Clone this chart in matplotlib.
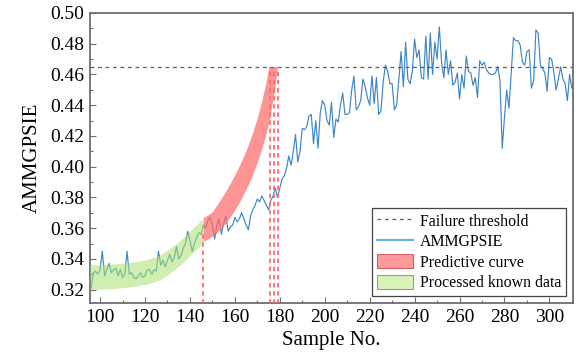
import matplotlib
matplotlib.use("Agg")
import matplotlib.pyplot as plt
import matplotlib.patches as mpatches
import matplotlib.ticker as mticker
from matplotlib.lines import Line2D
import numpy as np

plt.rcParams["font.family"] = ["Liberation Serif", "DejaVu Serif"]

#  Data 
sample_start = 96
ammgpsie = [
    # 96 - 105
    0.321, 0.331, 0.332, 0.330, 0.333, 0.345, 0.329, 0.333, 0.337, 0.331,
    # 106 - 115
    0.333, 0.334, 0.329, 0.333, 0.328, 0.330, 0.345, 0.330, 0.331, 0.328,
    # 116 - 125
    0.327, 0.329, 0.331, 0.328, 0.329, 0.333, 0.333, 0.330, 0.333, 0.332,
    # 126 - 135
    0.345, 0.336, 0.339, 0.335, 0.339, 0.343, 0.338, 0.341, 0.348, 0.340,
    # 136 - 145
    0.342, 0.347, 0.350, 0.358, 0.352, 0.345, 0.350, 0.354, 0.357, 0.356,
    # 146 - 155
    0.362, 0.360, 0.365, 0.367, 0.362, 0.353, 0.362, 0.366, 0.356, 0.363,
    # 156 - 165
    0.368, 0.358, 0.361, 0.362, 0.367, 0.364, 0.366, 0.370, 0.366, 0.362,
    # 166 - 175
    0.359, 0.368, 0.372, 0.375, 0.379, 0.377, 0.381, 0.378, 0.375, 0.372,
    # 176 - 185
    0.378, 0.381, 0.386, 0.380, 0.386, 0.392, 0.394, 0.399, 0.407, 0.401,
    # 186 - 195
    0.410, 0.421, 0.403, 0.410, 0.425, 0.424, 0.426, 0.433, 0.434, 0.415,
    # 196 - 205
    0.430, 0.412, 0.435, 0.443, 0.440, 0.430, 0.427, 0.442, 0.419, 0.431,
    # 206 - 215
    0.429, 0.440, 0.448, 0.434, 0.434, 0.435, 0.450, 0.459, 0.437, 0.439,
    # 216 - 225
    0.443, 0.457, 0.452, 0.445, 0.440, 0.459, 0.441, 0.458, 0.434, 0.436,
    # 226 - 235
    0.455, 0.466, 0.462, 0.454, 0.454, 0.437, 0.440, 0.457, 0.475, 0.452,
    # 236 - 245
    0.481, 0.457, 0.454, 0.462, 0.483, 0.471, 0.476, 0.458, 0.457, 0.485,
    # 246 - 255
    0.457, 0.487, 0.460, 0.481, 0.470, 0.491, 0.468, 0.458, 0.476, 0.460,
    # 256 - 265
    0.469, 0.453, 0.455, 0.461, 0.444, 0.460, 0.451, 0.472, 0.462, 0.461,
    # 266 - 275
    0.453, 0.458, 0.445, 0.469, 0.466, 0.468, 0.463, 0.461, 0.460, 0.460,
    # 276 - 285
    0.461, 0.465, 0.456, 0.412, 0.432, 0.450, 0.438, 0.461, 0.484, 0.482,
    # 286 - 295
    0.482, 0.479, 0.468, 0.466, 0.475, 0.476, 0.451, 0.456, 0.489, 0.487,
    # 296 - 305
    0.466, 0.464, 0.461, 0.449, 0.471, 0.470, 0.461, 0.450, 0.457, 0.465,
    # 306 - 311
    0.457, 0.454, 0.443, 0.460, 0.451, 0.454,
]
samples = np.arange(sample_start, sample_start + len(ammgpsie))

# processed known data (fitted band)
known_x = [95.5, 101, 106, 111, 116, 121, 126, 131, 136, 141, 146]
known_mid = [0.3282, 0.3283, 0.3287, 0.3294, 0.3303, 0.3316, 0.3340,
             0.3385, 0.3445, 0.3515, 0.3585]
known_half = 0.008

# predictive curve (upper / lower bound)
pred_x = [146, 148, 150, 152, 154, 156, 158, 160, 162, 164, 166, 168,
          170, 172, 174, 175.1, 176, 177, 178, 179]
pred_upper = [0.3672, 0.3685, 0.3708, 0.3750, 0.3795, 0.3842, 0.3893,
              0.3948, 0.4008, 0.4072, 0.4145, 0.4225, 0.4320, 0.4430,
              0.4560, 0.4650, 0.4650, 0.4650, 0.4650, 0.4650]
pred_lower = [0.3515, 0.3530, 0.3548, 0.3570, 0.3600, 0.3635, 0.3675,
              0.3720, 0.3770, 0.3825, 0.3885, 0.3953, 0.4030, 0.4120,
              0.4222, 0.4288, 0.4358, 0.4450, 0.4545, 0.4650]

threshold = 0.4648
start_marker = 146
start_marker_top = 0.358
fail_markers = [175.6, 177.3, 179.1]

#  Palette 
COLORS = {
    "line": "#3f85c8",
    "pred": "#ff6b6b",
    "known": "#a8e070",
    "vline": "#ff6e6e",
    "thresh": "#5a5a5a",
    "spine": "#6e6e6e",
}

fig = plt.figure(figsize=(5.79, 3.6), dpi=100)
ax = fig.add_axes([0.1554, 0.1583, 0.8342, 0.8056])

ax.plot(samples, ammgpsie, color=COLORS["line"], linewidth=0.85, zorder=2)

known_x = np.array(known_x)
known_mid = np.array(known_mid)
ax.fill_between(known_x, known_mid - known_half, known_mid + known_half,
                color=COLORS["known"], alpha=0.55, linewidth=0, zorder=3)
ax.fill_between(pred_x, pred_lower, pred_upper,
                color=COLORS["pred"], alpha=0.72, linewidth=0, zorder=3)

ax.axhline(threshold, color=COLORS["thresh"], linewidth=0.9,
           linestyle=(0, (3, 3)), zorder=4)

ax.plot([start_marker, start_marker], [0.30, start_marker_top],
        color=COLORS["vline"], linewidth=1.3, linestyle=(0, (2.5, 2)), zorder=4)
for xm in fail_markers:
    ax.plot([xm, xm], [0.30, threshold], color=COLORS["vline"],
            linewidth=1.3, linestyle=(0, (2.5, 2)), zorder=4)

ax.set_xlim(95.5, 310.5)
ax.set_ylim(0.3113, 0.50)

ax.xaxis.set_major_locator(mticker.MultipleLocator(20))
ax.xaxis.set_minor_locator(mticker.MultipleLocator(10))
ax.yaxis.set_major_locator(mticker.MultipleLocator(0.02))
ax.yaxis.set_minor_locator(mticker.MultipleLocator(0.01))
ax.yaxis.set_major_formatter(mticker.FormatStrFormatter("%.2f"))
ax.tick_params(which="both", direction="in", top=False, right=False,
               color=COLORS["spine"], labelsize=14, pad=4)
ax.tick_params(which="major", length=4, width=0.8)
ax.tick_params(which="minor", length=2.5, width=0.8)
for sp in ax.spines.values():
    sp.set_color(COLORS["spine"])
    sp.set_linewidth(1.3)

ax.set_xlabel("Sample No.", fontsize=15, labelpad=4)
ax.set_ylabel("AMMGPSIE", fontsize=15, labelpad=6)

handles = [
    Line2D([], [], color=COLORS["thresh"], linewidth=0.9, linestyle=(0, (3, 3))),
    Line2D([], [], color="#6aaee0", linewidth=1.6),
    mpatches.Patch(facecolor="#ff9b9b", edgecolor="#d06060", linewidth=0.8),
    mpatches.Patch(facecolor="#d8f2b8", edgecolor="#9a9a9a", linewidth=0.8),
]
labels = ["Failure threshold", "AMMGPSIE", "Predictive curve",
          "Processed known data"]
leg = ax.legend(handles, labels, loc="lower right", fontsize=11.4,
                frameon=True, fancybox=False, edgecolor="#444444",
                framealpha=1, handlelength=2.3, handleheight=1.0,
                labelspacing=0.25, handletextpad=0.4, borderpad=0.3,
                borderaxespad=0.45)
leg.get_frame().set_linewidth(0.9)

fig.savefig("out.png", dpi=100, facecolor="white")
